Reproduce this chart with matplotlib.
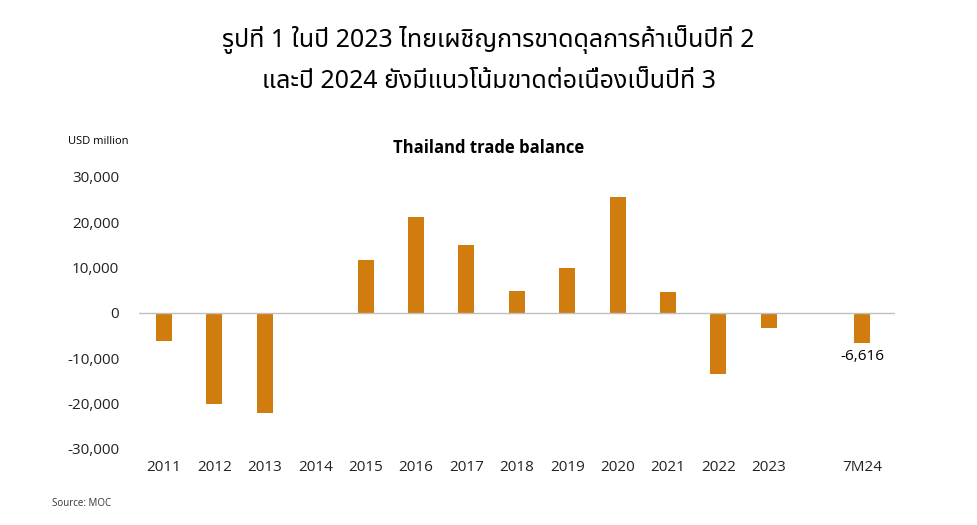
import matplotlib
matplotlib.use("Agg")
import matplotlib.pyplot as plt
import numpy as np

categories = ["2011","2012","2013","2014","2015","2016","2017","2018","2019","2020","2021","2022","2023","7M24"]
values = [-6200,-20000,-22000,-300,11600,21200,15100,4800,10000,25500,4700,-13500,-3300,-6616]
yticks = [-30000,-20000,-10000,0,10000,20000,30000]

W,H = 977,525
fig = plt.figure(figsize=(W/100,H/100), dpi=100)
ax = fig.add_axes([138.8/W, 1-449/H, (894.8-138.8)/W, (449-177)/H])
pos = list(range(13)) + [13.85]
ax.bar(pos, values, width=0.32, color="#D17C0E")
ax.axhline(0, color="#BFBFBF", lw=1)
ax.set_xlim(-0.5,14.5); ax.set_ylim(-30000,30000)
ax.set_yticks(yticks)
ax.set_yticklabels([f"{v:,}" for v in yticks], fontsize=11, color="#222222", family="Open Sans")
ax.set_xticks(pos)
ax.set_xticklabels(categories, fontsize=11, color="#222222", family="Open Sans")
ax.tick_params(axis="y", length=0, pad=14)
ax.tick_params(axis="x", length=0, pad=8)
for s in ax.spines.values(): s.set_visible(False)
ax.text(pos[-1], values[-1]-1400, f"{values[-1]:,}", ha="center", va="top", fontsize=11, family="Open Sans")
fig.text(0.5, 1-148/H, "Thailand trade balance", ha="center", va="center", fontsize=12, fontweight="bold", family="Open Sans")
fig.text(68/W, 1-141/H, "USD million", ha="left", va="center", fontsize=8, family="Open Sans")
fig.text(52/W, 1-503/H, "Source: MOC", ha="left", va="center", fontsize=7, family="Open Sans", color="#333333")
fams = ["Noto Sans Thai","Noto Sans Thai Looped","Loma","Garuda","Tlwg Typo","Noto Sans","DejaVu Sans"]
fig.text(0.5, 1-40/H, "รูปที่ 1 ในปี 2023 ไทยเผชิญการขาดดุลการค้าเป็นปีที่ 2", ha="center", va="center", fontsize=18, fontweight="bold", family=fams)
fig.text(0.5, 1-82/H, "และปี 2024 ยังมีแนวโน้มขาดต่อเนื่องเป็นปีที่ 3", ha="center", va="center", fontsize=18, fontweight="bold", family=fams)
fig.savefig("out.png", dpi=100)
